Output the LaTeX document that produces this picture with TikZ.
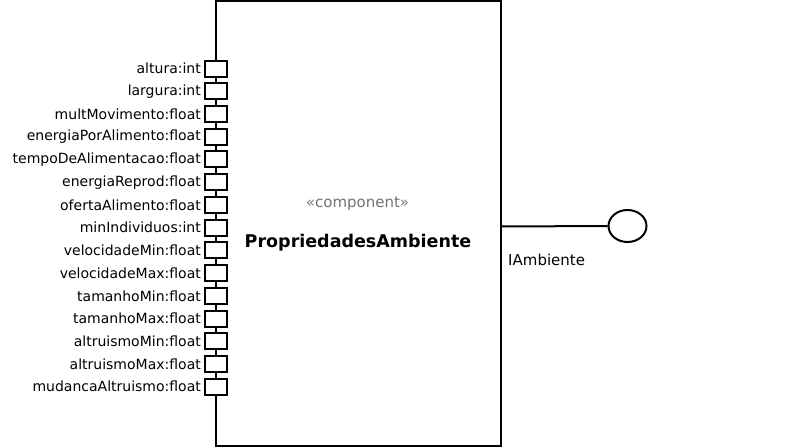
\documentclass[tikz,border=0pt]{standalone}
\usepackage{fontspec}
\setmainfont{DejaVu Sans}
\usetikzlibrary{shapes.geometric}
\begin{document}
\begin{tikzpicture}[x=1pt,y=-1pt,
  comp/.style={draw=black,line width=2pt,fill=white},
  portbox/.style={draw=black,line width=2pt,fill=white,minimum width=22pt,minimum height=16pt,inner sep=0pt},
  portlabel/.style={anchor=east,inner sep=0pt,font=\fontsize{14}{16}\selectfont},
  iface/.style={draw=black,line width=2pt,fill=white,minimum width=38pt,minimum height=32pt,inner sep=0pt,shape=ellipse}]
\useasboundingbox (0,0) rectangle (794,447);
\fill[white] (0,0) rectangle (794,447);
\draw[comp] (216,1) rectangle (501,446);
\coordinate (compright) at (501,226.5);
\node[font=\fontsize{15}{18}\selectfont,text=black!55] (stereo) at (357.5,204) {«component»};
\node[font=\bfseries\fontsize{17.5}{20}\selectfont] (cname) at (358,243) {PropriedadesAmbiente};
\foreach \i/\lab in {0/altura:int,1/largura:int,2/multMovimento:float,3/energiaPorAlimento:float,4/tempoDeAlimentacao:float,5/energiaReprod:float,6/ofertaAlimento:float,7/minIndividuos:int,8/velocidadeMin:float,9/velocidadeMax:float,10/tamanhoMin:float,11/tamanhoMax:float,12/altruismoMin:float,13/altruismoMax:float,14/mudancaAltruismo:float}{
  \node[portbox] (p\i) at (216,{68.5+22.73*\i}) {};
  \node[portlabel] (l\i) at (201,{68.5+22.73*\i}) {\lab};
}
\node[iface] (ball) at (627.5,226) {};
\draw[line width=2pt] (compright) -- (ball.west);
\node[anchor=west,inner sep=0pt,font=\fontsize{15}{18}\selectfont] (ilabel) at (508,260) {IAmbiente};
\end{tikzpicture}
\end{document}
